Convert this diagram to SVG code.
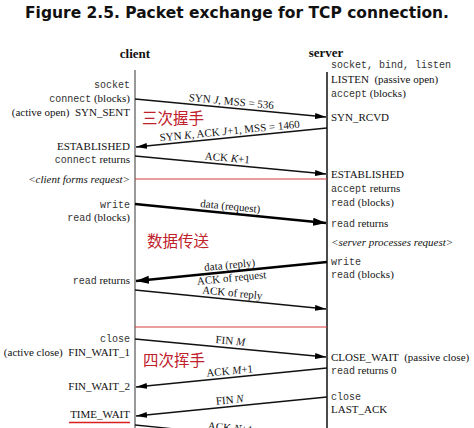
<svg xmlns="http://www.w3.org/2000/svg" width="474" height="428" viewBox="0 0 474 428">
<style>
.title{font-family:"DejaVu Sans",Verdana,sans-serif;font-weight:bold;font-size:15px;fill:#111}
.head{font-family:"Liberation Serif","Times New Roman",serif;font-weight:bold;font-size:13px;fill:#111}
.s{font-family:"Liberation Serif","Times New Roman",serif;font-size:11px;fill:#111;white-space:pre}
.m{font-family:"Liberation Mono","Courier New",monospace;font-size:10px;fill:#333}
.i{font-style:italic}
.l{font-family:"Liberation Serif","Times New Roman",serif;font-size:11px;fill:#111;text-anchor:middle}
.r{text-anchor:end}
.cn{font-family:"Noto Sans CJK SC","Noto Sans",sans-serif;font-size:15.5px;fill:#c0202a}
.msg{stroke:#111;stroke-width:1.3;fill:none;marker-end:url(#ah)}
.data{stroke:#000;stroke-width:2.6;fill:none;marker-end:url(#ahb)}
.red{stroke:#d83a3a;stroke-width:1.1}
</style>
<defs>
<marker id="ah" markerUnits="userSpaceOnUse" markerWidth="12" markerHeight="7" refX="11" refY="3" orient="auto"><path d="M0,0 L11,3 L0,6 z" fill="#000"/></marker>
<marker id="ahb" markerUnits="userSpaceOnUse" markerWidth="14" markerHeight="9" refX="13" refY="4" orient="auto"><path d="M0,0 L13,4 L0,8 z" fill="#000"/></marker>
</defs>
<rect width="474" height="428" fill="#fff"/>
<text class="title" x="25" y="18" textLength="424" lengthAdjust="spacingAndGlyphs">Figure 2.5. Packet exchange for TCP connection.</text>

<g id="client">
<text class="head" x="135" y="58" text-anchor="middle">client</text>
<line x1="135" y1="70" x2="135" y2="428" stroke="#999" stroke-width="2"/>
</g>
<g id="server">
<text class="head" x="326" y="57" text-anchor="middle">server</text>
<line x1="327" y1="72" x2="327" y2="428" stroke="#111" stroke-width="1.5"/>
</g>

<g id="client-labels">
<text class="m r" x="130" y="88">socket</text>
<text class="s r" x="130" y="102"><tspan class="m">connect</tspan> (blocks)</text>
<text class="s r" x="130" y="116">(active open)  SYN_SENT</text>
<text class="s r" x="130" y="150">ESTABLISHED</text>
<text class="s r" x="130" y="163"><tspan class="m">connect</tspan> returns</text>
<text class="s r i" x="130" y="183">&lt;client forms request&gt;</text>
<text class="m r" x="130" y="208">write</text>
<text class="s r" x="130" y="221"><tspan class="m">read</tspan> (blocks)</text>
<text class="s r" x="130" y="284"><tspan class="m">read</tspan> returns</text>
<text class="m r" x="130" y="342">close</text>
<text class="s r" x="130" y="356">(active close)  FIN_WAIT_1</text>
<text class="s r" x="130" y="390">FIN_WAIT_2</text>
<text class="s r" x="130" y="418">TIME_WAIT</text>
<line x1="69" y1="422.5" x2="130" y2="422.5" stroke="#d82020" stroke-width="1.5"/>
</g>

<g id="server-labels">
<text class="m" x="331" y="68">socket, bind, listen</text>
<text class="s" x="331" y="83">LISTEN  (passive open)</text>
<text class="s" x="331" y="97"><tspan class="m">accept</tspan> (blocks)</text>
<text class="s" x="331" y="121">SYN_RCVD</text>
<text class="s" x="331" y="178">ESTABLISHED</text>
<text class="s" x="331" y="192"><tspan class="m">accept</tspan> returns</text>
<text class="s" x="331" y="206"><tspan class="m">read</tspan> (blocks)</text>
<text class="s" x="331" y="227"><tspan class="m">read</tspan> returns</text>
<text class="s i" x="331" y="246">&lt;server processes request&gt;</text>
<text class="m" x="331" y="265">write</text>
<text class="s" x="331" y="278"><tspan class="m">read</tspan> (blocks)</text>
<text class="s" x="331" y="361">CLOSE_WAIT  (passive close)</text>
<text class="s" x="331" y="374"><tspan class="m">read</tspan> returns 0</text>
<text class="m" x="331" y="400">close</text>
<text class="s" x="331" y="413">LAST_ACK</text>
</g>

<g id="phases">
<text class="cn" x="142" y="124">三次握手</text>
<text class="cn" x="147" y="247">数据传送</text>
<text class="cn" x="143" y="366">四次挥手</text>
</g>

<g id="connectors">
<line class="msg" x1="135" y1="99" x2="326" y2="117"/>
<line class="msg" x1="327" y1="128" x2="136" y2="147"/>
<line class="msg" x1="135" y1="156" x2="326" y2="174"/>
<line class="red" x1="135" y1="179" x2="327" y2="179"/>
<line class="data" x1="135" y1="204" x2="326" y2="223"/>
<line class="data" x1="327" y1="262" x2="136" y2="281"/>
<line class="msg" x1="135" y1="290" x2="326" y2="309"/>
<line class="red" x1="135" y1="327" x2="327" y2="327"/>
<line class="msg" x1="135" y1="339" x2="326" y2="357"/>
<line class="msg" x1="327" y1="368" x2="136" y2="387"/>
<line class="msg" x1="327" y1="397" x2="136" y2="416"/>
<line class="msg" x1="135" y1="425" x2="326" y2="444"/>
</g>

<g id="connector-labels">
<text class="l" x="231" y="105" transform="rotate(5.4 231 105)">SYN <tspan class="i">J</tspan>, MSS = 536</text>
<text class="l" x="230" y="134.5" transform="rotate(-5.6 230 134.5)">SYN <tspan class="i">K</tspan>, ACK <tspan class="i">J</tspan>+1, MSS = 1460</text>
<text class="l" x="227" y="161.5" transform="rotate(5.4 227 161.5)">ACK <tspan class="i">K</tspan>+1</text>
<text class="l" x="230" y="210" transform="rotate(5.6 230 210)">data (request)</text>
<text class="l" x="230" y="268.5" transform="rotate(-5.6 230 268.5)">data (reply)</text>
<text class="l" x="232" y="281.5" transform="rotate(-5.6 232 281.5)">ACK of request</text>
<text class="l" x="232" y="296.5" transform="rotate(5.6 232 296.5)">ACK of reply</text>
<text class="l" x="230" y="344.5" transform="rotate(5.4 230 344.5)">FIN <tspan class="i">M</tspan></text>
<text class="l" x="230" y="374.5" transform="rotate(-5.6 230 374.5)">ACK <tspan class="i">M</tspan>+1</text>
<text class="l" x="230" y="403.5" transform="rotate(-5.6 230 403.5)">FIN <tspan class="i">N</tspan></text>
<text class="l" x="230" y="431.5" transform="rotate(5.6 230 431.5)">ACK <tspan class="i">N</tspan>+1</text>
</g>
</svg>
